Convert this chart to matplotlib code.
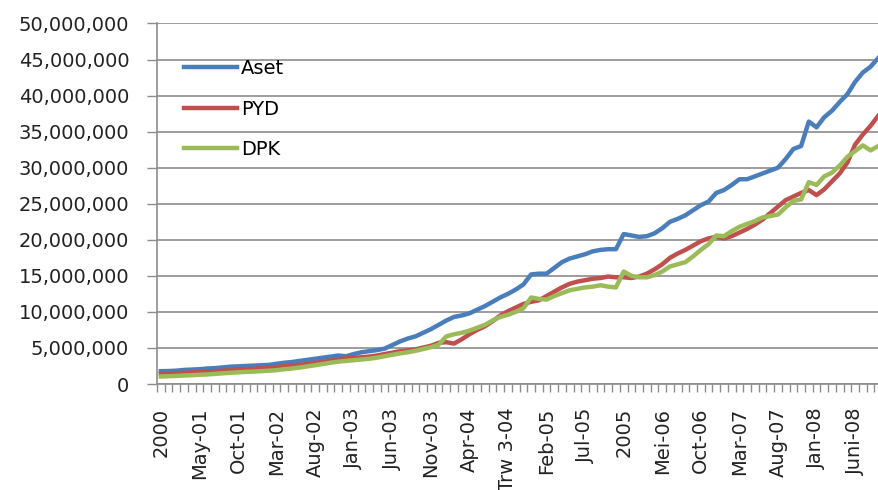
import matplotlib.pyplot as plt
from matplotlib.ticker import FuncFormatter, MultipleLocator

# monthly values, Dec 2000 .. Sep 2008 (in millions)
aset = [1.78, 1.80, 1.85, 1.95, 2.00, 2.05, 2.15, 2.20, 2.30, 2.40,
        2.45, 2.50, 2.55, 2.60, 2.65, 2.80, 2.95, 3.05, 3.20, 3.35,
        3.50, 3.65, 3.80, 3.95, 3.85, 4.15, 4.40, 4.55, 4.70, 4.90,
        5.40, 5.90, 6.30, 6.60, 7.10, 7.60, 8.20, 8.80, 9.30, 9.50,
        9.80, 10.3, 10.8, 11.4, 12.0, 12.5, 13.1, 13.8, 15.2, 15.3,
        15.3, 16.1, 16.9, 17.4, 17.7, 18.0, 18.4, 18.6, 18.7, 18.7,
        20.8, 20.6, 20.4, 20.5, 20.9, 21.6, 22.5, 22.9, 23.4, 24.1,
        24.8, 25.3, 26.5, 26.9, 27.6, 28.4, 28.4, 28.8, 29.2, 29.6,
        30.0, 31.2, 32.6, 33.0, 36.4, 35.6, 37.0, 37.9, 39.1, 40.2,
        41.9, 43.2, 44.0, 45.2]
pyd = [1.42, 1.45, 1.50, 1.55, 1.60, 1.68, 1.72, 1.78, 1.85, 1.92,
       2.00, 2.05, 2.10, 2.20, 2.28, 2.35, 2.45, 2.55, 2.65, 2.80,
       2.95, 3.10, 3.25, 3.40, 3.55, 3.65, 3.70, 3.80, 3.95, 4.15,
       4.35, 4.55, 4.65, 4.80, 5.05, 5.30, 5.70, 5.80, 5.60, 6.20,
       6.90, 7.50, 8.00, 8.70, 9.50, 10.1, 10.6, 11.1, 11.4, 11.6,
       12.2, 12.8, 13.4, 13.9, 14.2, 14.4, 14.6, 14.7, 14.9, 14.8,
       14.8, 14.7, 14.9, 15.3, 15.9, 16.6, 17.5, 18.1, 18.6, 19.2,
       19.8, 20.2, 20.4, 20.2, 20.5, 21.0, 21.5, 22.1, 22.8, 23.7,
       24.6, 25.5, 26.0, 26.5, 26.9, 26.2, 27.0, 28.1, 29.2, 30.7,
       33.2, 34.6, 35.8, 37.2]
dpk = [1.04, 1.08, 1.12, 1.18, 1.22, 1.28, 1.33, 1.40, 1.48, 1.55,
       1.62, 1.68, 1.72, 1.78, 1.85, 1.92, 2.05, 2.15, 2.28, 2.45,
       2.60, 2.78, 2.95, 3.10, 3.20, 3.30, 3.40, 3.50, 3.65, 3.85,
       4.05, 4.25, 4.40, 4.60, 4.85, 5.10, 5.45, 6.60, 6.90, 7.10,
       7.40, 7.80, 8.20, 8.80, 9.30, 9.60, 10.0, 10.5, 12.0, 11.8,
       11.7, 12.2, 12.6, 13.0, 13.2, 13.4, 13.5, 13.7, 13.5, 13.4,
       15.6, 15.0, 14.8, 14.8, 15.1, 15.6, 16.3, 16.6, 16.9, 17.7,
       18.6, 19.4, 20.6, 20.5, 21.2, 21.8, 22.2, 22.6, 23.1, 23.3,
       23.5, 24.5, 25.4, 25.6, 28.0, 27.6, 28.8, 29.3, 30.3, 31.5,
       32.3, 33.1, 32.4, 33.0]

tick_labels = ['2000', 'May-01', 'Oct-01', 'Mar-02', 'Aug-02', 'Jan-03',
               'Jun-03', 'Nov-03', 'Apr-04', 'Trw 3-04', 'Feb-05', 'Jul-05',
               '2005', 'Mei-06', 'Oct-06', 'Mar-07', 'Aug-07', 'Jan-08',
               'Juni-08']

grey = '#8c8c8c'
months = list(range(len(aset)))

fig = plt.figure(figsize=(8.79, 4.90), dpi=100)
ax = fig.add_axes([157 / 879, 1 - 384 / 490, 722 / 879, 360.5 / 490])

ax.plot(months, [v * 1e6 for v in aset], color='#4a7ebb', lw=3.2, label='Aset',
        solid_joinstyle='round')
ax.plot(months, [v * 1e6 for v in pyd], color='#c0504d', lw=3.2, label='PYD',
        solid_joinstyle='round')
ax.plot(months, [v * 1e6 for v in dpk], color='#9bbb59', lw=3.2, label='DPK',
        solid_joinstyle='round')

ax.set_ylim(0, 50e6)
ax.set_xlim(-0.5, 93.1)
ax.yaxis.set_major_locator(MultipleLocator(5e6))
ax.yaxis.set_major_formatter(FuncFormatter(lambda v, p: f'{int(v):,}'))
ax.grid(axis='y', color=grey, lw=1.2)
ax.set_axisbelow(True)

ax.set_xticks(range(0, 91, 5))
ax.set_xticklabels(tick_labels, rotation=90, va='top', ha='center')
ax.set_xticks([m - 0.5 for m in months], minor=True)
ax.tick_params(axis='x', which='major', length=0, pad=17, labelsize=14,
               labelcolor='#222222')
ax.tick_params(axis='x', which='minor', length=6, color=grey, width=1)
ax.tick_params(axis='y', length=7, color=grey, width=1, pad=13, labelsize=14,
               labelcolor='#222222')

for s in ['top', 'right']:
    ax.spines[s].set_visible(False)
for s in ['left', 'bottom']:
    ax.spines[s].set_color(grey)
    ax.spines[s].set_linewidth(1.2)

ax.legend(loc='upper left', bbox_to_anchor=(0.038, 0.901), frameon=False,
          fontsize=14, handlelength=2.7, handletextpad=0.2, labelspacing=1.1,
          borderpad=0, borderaxespad=0)

fig.savefig('out.png', dpi=100)
